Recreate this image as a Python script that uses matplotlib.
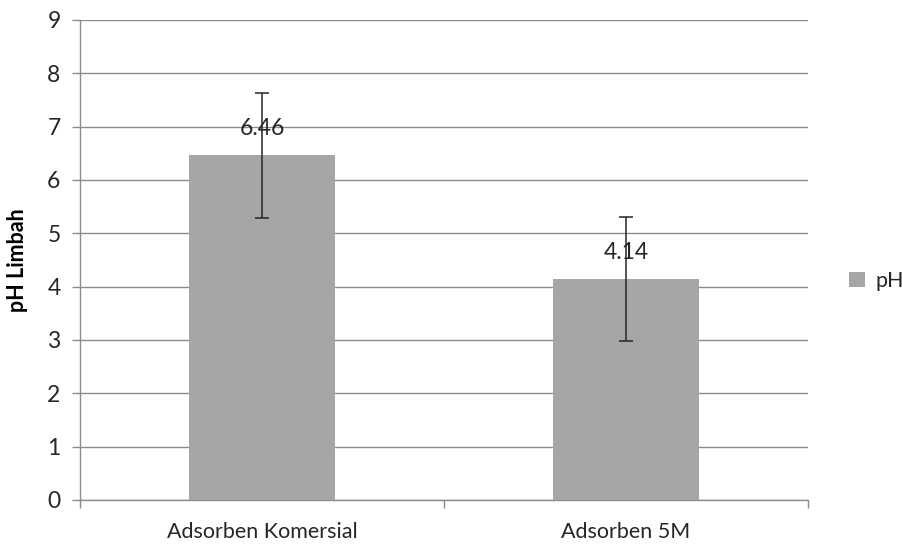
import matplotlib
matplotlib.use("Agg")
import matplotlib.pyplot as plt

categories = ["Adsorben Komersial", "Adsorben 5M"]
ph_values = [6.46, 4.14]
ph_errors = [1.18, 1.16]
value_labels = ["6.46", "4.14"]
series_name = "pH"
y_label = "pH Limbah"
y_ticks = list(range(0, 10))

plt.rcParams['font.family'] = ['Lato', 'DejaVu Sans']

fig = plt.figure(figsize=(9.03, 5.46), dpi=100)
ax = fig.add_axes([80/903, 46/546, 728/903, 480/546])

x = list(range(len(categories)))
bars = ax.bar(x, ph_values, width=0.4, color='#a6a6a6', label=series_name, zorder=3)
ax.errorbar(x, ph_values, yerr=ph_errors, fmt='none', ecolor='#262626',
            elinewidth=1.1, capsize=5, capthick=1.1, zorder=4)
for xi, v, lab in zip(x, ph_values, value_labels):
    ax.annotate(lab, (xi, v), xytext=(0, 19.5), textcoords='offset points',
                ha='center', va='center', fontsize=16.5, color='#262626', zorder=5)

ax.set_xlim(-0.5, len(categories) - 0.5)
ax.set_ylim(0, 9)
ax.set_yticks(y_ticks)
ax.yaxis.grid(True, color='#8c8c8c', linewidth=1.0, zorder=0)
ax.set_axisbelow(True)

ax.set_xticks(x)
ax.set_xticklabels(categories, fontsize=15.5, color='#262626')
ax.set_xticks([i - 0.5 for i in range(len(categories) + 1)], minor=True)
ax.tick_params(axis='x', which='major', length=0, pad=16)
ax.tick_params(axis='x', which='minor', length=6, color='#8c8c8c', width=1)
ax.tick_params(axis='y', length=6, color='#8c8c8c', width=1, labelsize=16.5, labelcolor='#262626', pad=8)

for s in ['top', 'right']:
    ax.spines[s].set_visible(False)
for s in ['left', 'bottom']:
    ax.spines[s].set_color('#8c8c8c')
    ax.spines[s].set_linewidth(1.0)

ax.set_ylabel(y_label, fontsize=15.5, fontweight='bold', color='#000000', labelpad=14)

leg = fig.legend(handles=[bars], labels=[series_name], loc='center left',
                 bbox_to_anchor=(849/903, 1 - 281/546), frameon=False,
                 fontsize=15.5, handlelength=0.75, handleheight=0.75, handletextpad=0.5,
                 borderaxespad=0, borderpad=0)
for t in leg.get_texts():
    t.set_color('#262626')

fig.savefig("out.png", dpi=100)
